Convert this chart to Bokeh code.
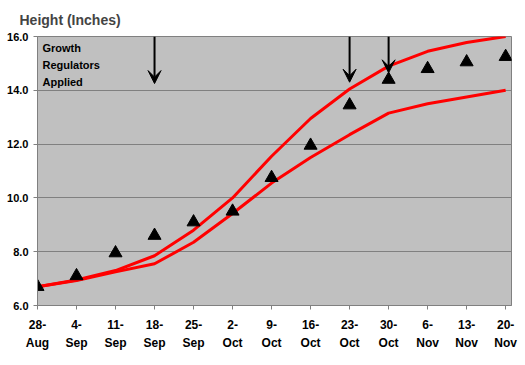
from bokeh.plotting import figure
from bokeh.models import ColumnDataSource, FixedTicker, Range1d, Label, Arrow, VeeHead, NumeralTickFormatter
from bokeh.embed import file_html
from bokeh.resources import INLINE

date_labels = ["28-\nAug", "4-\nSep", "11-\nSep", "18-\nSep", "25-\nSep", "2-\nOct", "9-\nOct",
               "16-\nOct", "23-\nOct", "30-\nOct", "6-\nNov", "13-\nNov", "20-\nNov"]
week = list(range(len(date_labels)))
measured = [6.7, 7.1, 7.95, 8.6, 9.1, 9.5, 10.75, 11.95, 13.45, 14.4, 14.8, 15.05, 15.25]
upper = [6.7, 6.95, 7.3, 7.85, 8.8, 10.0, 11.55, 12.95, 14.05, 14.9, 15.45, 15.78, 16.0]
lower = [6.7, 6.93, 7.25, 7.55, 8.35, 9.42, 10.55, 11.5, 12.35, 13.15, 13.5, 13.75, 14.0]
app_week = [3, 8, 9]
app_tip = [14.25, 14.3, 14.65]
y_ticks = [6, 8, 10, 12, 14, 16]

FONT = "Liberation Sans"
GREY = "#808080"

p = figure(width=525, height=365, output_backend="svg", toolbar_location=None,
           x_range=Range1d(0, 12.15), y_range=Range1d(6, 16),
           min_border_left=37, min_border_right=14, min_border_top=12, min_border_bottom=60,
           title="Height (Inches)")
p.title.text_font = FONT
p.title.text_font_style = "bold"
p.title.text_font_size = "14px"
p.title.align = "left"
p.title.offset = -18
p.title.standoff = 18
p.background_fill_color = "#C0C0C0"
p.border_fill_color = "white"
p.outline_line_color = GREY
p.outline_line_width = 1

p.xgrid.grid_line_color = None
p.ygrid.ticker = FixedTicker(ticks=y_ticks)
p.ygrid.grid_line_color = GREY
p.ygrid.grid_line_width = 1

p.yaxis.ticker = FixedTicker(ticks=y_ticks)
p.yaxis.formatter = NumeralTickFormatter(format="0.0")
p.yaxis.major_label_text_font = FONT
p.yaxis.major_label_text_font_style = "bold"
p.yaxis.major_label_text_font_size = "11px"
p.yaxis.major_label_text_color = "black"
p.yaxis.major_label_standoff = 5
p.yaxis.major_tick_out = 4
p.yaxis.major_tick_in = 0
p.yaxis.minor_tick_line_color = None
p.yaxis.axis_line_color = GREY
p.yaxis.major_tick_line_color = GREY

p.xaxis.ticker = FixedTicker(ticks=week)
p.xaxis.major_label_overrides = {i: lab for i, lab in enumerate(date_labels)}
p.xaxis.major_label_text_font = FONT
p.xaxis.major_label_text_font_style = "bold"
p.xaxis.major_label_text_font_size = "12px"
p.xaxis.major_label_text_color = "black"
p.xaxis.major_label_text_line_height = 1.3
p.xaxis.major_label_standoff = 8
p.xaxis.major_tick_out = 4
p.xaxis.major_tick_in = 0
p.xaxis.minor_tick_line_color = None
p.xaxis.axis_line_color = GREY
p.xaxis.major_tick_line_color = GREY

src = ColumnDataSource(dict(week=week, measured=measured, upper=upper, lower=lower))
p.line("week", "upper", source=src, line_color="#FF0000", line_width=3)
p.line("week", "lower", source=src, line_color="#FF0000", line_width=3)
p.scatter("week", "measured", source=src, marker="triangle", size=13,
          fill_color="black", line_color="black")

for xw, tip in zip(app_week, app_tip):
    p.add_layout(Arrow(x_start=xw, y_start=16, x_end=xw, y_end=tip,
                       line_color="black", line_width=2,
                       end=VeeHead(size=13, fill_color="black", line_color="black")))

p.add_layout(Label(x=0, y=16, x_offset=5, y_offset=-5, text="Growth\nRegulators\nApplied",
                   text_font=FONT, text_font_style="bold", text_font_size="11px",
                   text_baseline="top", text_align="left", text_line_height=1.45,
                   text_color="black"))

open("out.html", "w").write(file_html(p, INLINE))
